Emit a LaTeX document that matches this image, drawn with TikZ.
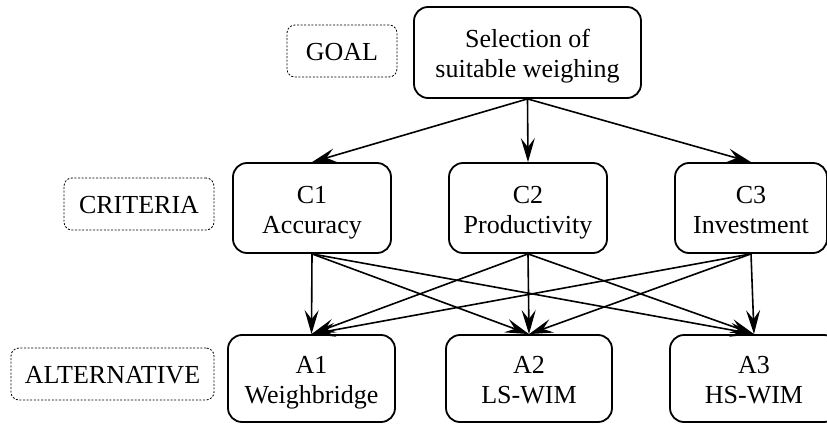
\documentclass[tikz,border=0pt]{standalone}
\usepackage{fontspec}
\setmainfont{Liberation Serif}
\usetikzlibrary{arrows.meta}

% two centred lines, with struts that keep every box's text at the same height
\newcommand\twolines[2]{\rule{0pt}{29pt}#1\\#2\rule[-9pt]{0pt}{0pt}}

\begin{document}
\begin{tikzpicture}[x=1pt,y=-1pt,
  box/.style={draw, line width=1.8pt, rounded corners=14pt, inner sep=0pt,
    align=center, font=\fontsize{26}{30}\selectfont},
  tag/.style={draw, line width=0.8pt, dash pattern=on 2pt off 1.6pt,
    rounded corners=8pt, inner sep=0pt, minimum height=52pt,
    text height=19pt, text depth=0pt,
    font=\fontsize{26}{30}\selectfont},
  link/.style={-{Stealth[length=24pt,width=14pt,inset=9pt]}, line width=1.6pt}]
\clip (0,0) rectangle (827,425);

% level labels
\node[tag, minimum width=110pt] (tgoal) at (342,51) {GOAL};
\node[tag, minimum width=150pt] (tcrit) at (139,204) {CRITERIA};
\node[tag, minimum width=203pt] (talt) at (112.5,374) {ALTERNATIVE};

% goal
\node[box, minimum width=227pt, minimum height=91pt] (g) at (527.5,52.5)
  {\twolines{Selection of}{suitable weighing}};

% criteria
\node[box, minimum width=158pt, minimum height=90pt] (c1) at (312,208) {\twolines{C1}{Accuracy}};
\node[box, minimum width=158pt, minimum height=90pt] (c2) at (528,208) {\twolines{C2}{Productivity}};
\node[box, minimum width=152pt, minimum height=90pt] (c3) at (751,208) {\twolines{C3}{Investment}};

% alternatives
\node[box, minimum width=167pt, minimum height=87pt] (a1) at (311.5,378.5) {\twolines{A1}{Weighbridge}};
\node[box, minimum width=166pt, minimum height=87pt] (a2) at (529,378.5) {\twolines{A2}{LS-WIM}};
\node[box, minimum width=168pt, minimum height=87pt] (a3) at (754,378.5) {\twolines{A3}{HS-WIM}};

% goal to criteria
\foreach \c in {c1,c2,c3}
  \draw[link] (g.south) -- (\c.north);

% criteria to alternatives
\foreach \c in {c1,c2,c3}
  \foreach \a in {a1,a2,a3}
    \draw[link] (\c.south) -- (\a.north);
\end{tikzpicture}
\end{document}
